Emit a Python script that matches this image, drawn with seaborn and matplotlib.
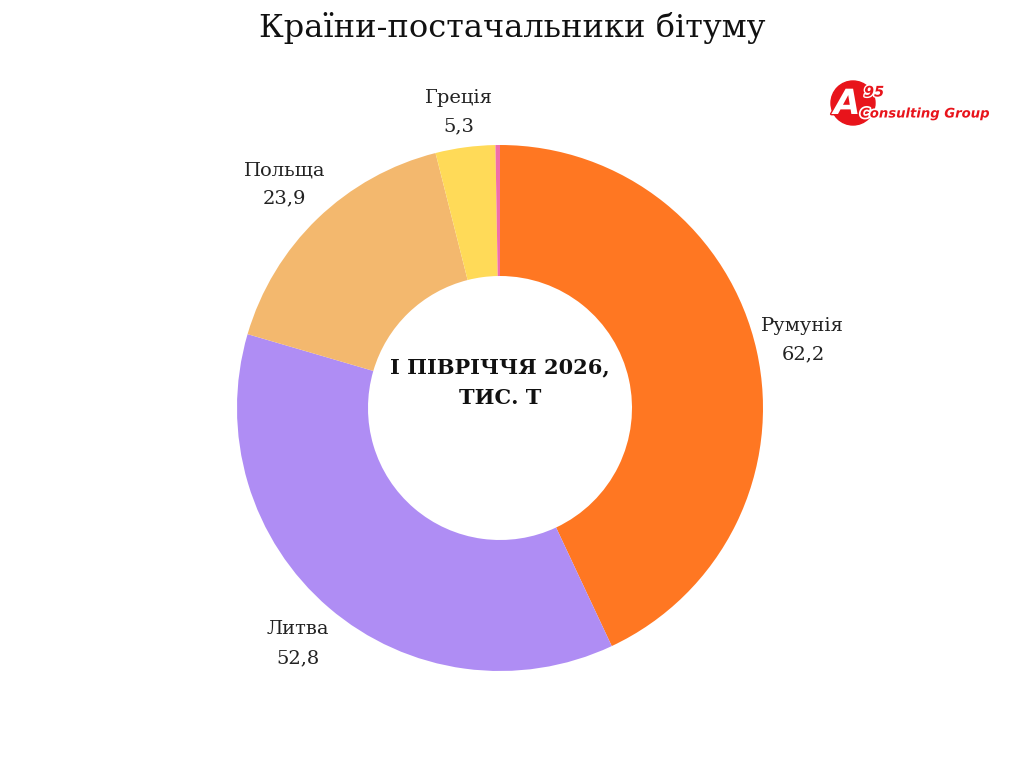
import matplotlib
matplotlib.use('Agg')
import matplotlib.pyplot as plt
import matplotlib.patheffects as pe
from matplotlib.patches import Circle
import seaborn as sns

# дані
countries = ['Румунія', 'Литва', 'Польща', 'Греція', '']
values = [62.2, 52.8, 23.9, 5.3, 0.4]
value_labels = ['62,2', '52,8', '23,9', '5,3', '']
colors = ['#FF7722', '#AF8DF4', '#F3B86E', '#FFDA58', '#F06EAA']

sns.set_theme(style='white')
plt.rcParams['font.family'] = ['DejaVu Serif']

fig = plt.figure(figsize=(10.24, 7.68), dpi=100)
ax = fig.add_axes([0, 0, 1, 1])
ax.set_xlim(0, 1024)
ax.set_ylim(0, 768)
ax.set_aspect('equal')
ax.axis('off')

labels = [f'{c}\n{v}' if c else '' for c, v in zip(countries, value_labels)]
wedges, texts = ax.pie(values, labels=labels, colors=colors, startangle=90,
                       counterclock=False, radius=263, center=(500, 360),
                       labeldistance=1.18,
                       wedgeprops=dict(width=131, edgecolor='none'),
                       textprops=dict(fontsize=14, color='#222222', linespacing=1.75))
for t in texts:
    t.set_horizontalalignment('center')
    t.set_verticalalignment('center')
# Греція трохи ближче до кільця
gx, gy = texts[3].get_position()
texts[3].set_position((gx, gy - 12))

ax.set_xlim(0, 1024)
ax.set_ylim(0, 768)

ax.text(500, 385, 'І ПІВРІЧЧЯ 2026,\nТИС. Т', ha='center', va='center',
        fontsize=15, fontweight='bold', color='#111111', linespacing=1.65)

fig.text(0.5, 1 - 28 / 768, 'Країни-постачальники бітуму', ha='center', va='center',
         fontsize=23, color='#111111')

# логотип
ax.add_patch(Circle((853, 768 - 103), 22, color='#E8141B', zorder=5))
ax.text(847, 768 - 104, 'A', ha='center', va='center', fontsize=25, fontweight='bold',
        fontstyle='italic', color='white', family='DejaVu Sans', zorder=6,
        path_effects=[pe.withStroke(linewidth=2, foreground='#E8141B')])
ax.text(874, 768 - 92, '95', ha='center', va='center', fontsize=10.5, fontweight='bold',
        fontstyle='italic', color='#E8141B', family='DejaVu Sans', zorder=7,
        path_effects=[pe.withStroke(linewidth=2, foreground='white')])
ax.text(925, 768 - 114, 'Consulting Group', ha='center', va='center', fontsize=9.5,
        fontweight='bold', fontstyle='italic', color='#E8141B', family='DejaVu Sans',
        zorder=7, path_effects=[pe.withStroke(linewidth=2.5, foreground='white')])

fig.savefig('out.png', dpi=100, facecolor='white')
